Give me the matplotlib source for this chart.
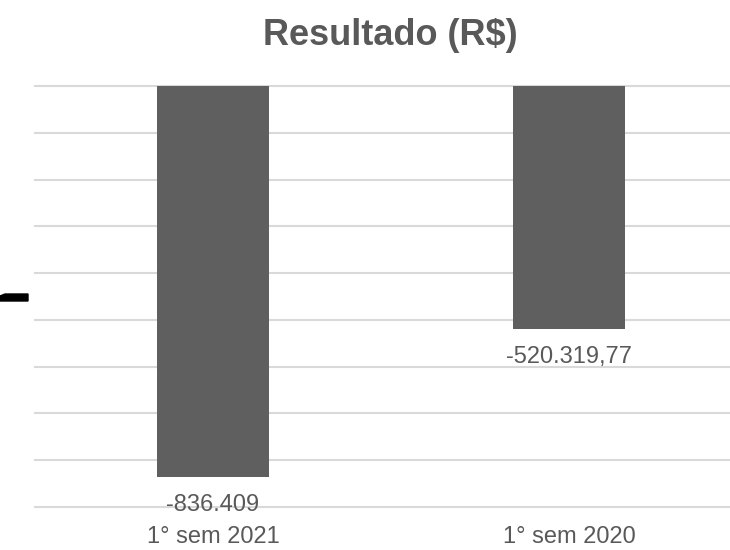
import matplotlib.pyplot as plt
import matplotlib.patches as mpatches

plt.rcParams["font.family"] = ["Liberation Sans", "DejaVu Sans"]

categories = ["1° sem 2021", "1° sem 2020"]
values = [-836409, -520319.77]
value_labels = ["-836.409", "-520.319,77"]
grid_ticks = [0, -100000, -200000, -300000, -400000, -500000,
              -600000, -700000, -800000, -900000]

TEXT = "#595959"
BAR = "#5f5f5f"
GRID = "#d9d9d9"

W, H = 730, 550
fig = plt.figure(figsize=(W / 100, H / 100), dpi=100)
# axes deliberately run past the right edge, as in the original
ax = fig.add_axes([35 / W, 1 - 507 / H, 712 / W, 421 / H])

x = range(len(categories))
ax.bar(x, values, width=0.312, color=BAR, zorder=3)
ax.set_xlim(-0.5, 1.5)
ax.set_ylim(-900000, 0)

for t in grid_ticks:
    ax.axhline(t, color=GRID, linewidth=1.5, zorder=1, clip_on=False)

for xi, v, lab in zip(x, values, value_labels):
    ax.annotate(lab, (xi, v), xytext=(0, -12), textcoords="offset points",
                ha="center", va="top", fontsize=17, color=TEXT, zorder=4)

ax.set_xticks(list(x))
ax.set_xticklabels(categories, fontsize=17, color=TEXT)
ax.tick_params(axis="x", length=0, pad=14)
ax.set_yticks([])
for s in ax.spines.values():
    s.set_visible(False)

fig.text(390 / W, 1 - 45 / H, "Resultado (R$)", ha="center", va="baseline",
         fontsize=26, fontweight="bold", color=TEXT)

# stray black arrow stub at the left edge
stub = mpatches.Polygon([(0, 1 - 296 / H), (5 / W, 1 - 294 / H), (28 / W, 1 - 294 / H),
                         (28 / W, 1 - 301 / H), (0, 1 - 301 / H)],
                        closed=True, transform=fig.transFigure, color="black")
fig.patches.append(stub)

fig.savefig("out.png", dpi=100)
